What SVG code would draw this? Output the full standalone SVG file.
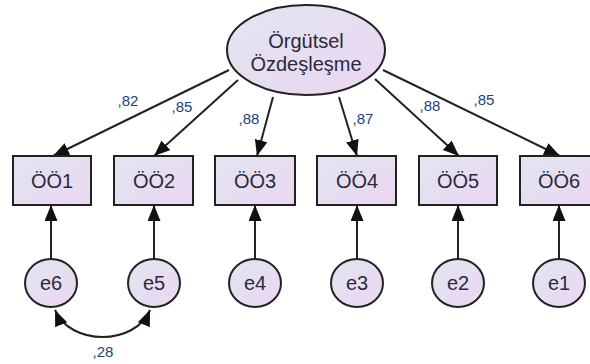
<svg xmlns="http://www.w3.org/2000/svg" width="590" height="364" viewBox="0 0 590 364">
<defs>
<linearGradient id="g" x1="0" y1="0" x2="1" y2="1">
<stop offset="0" stop-color="#e0e6f0"/>
<stop offset="1" stop-color="#ecd6f2"/>
</linearGradient>
<marker id="ah" markerUnits="userSpaceOnUse" markerWidth="17" markerHeight="14" refX="16" refY="6.5" orient="auto-start-reverse">
<path d="M0,0 L16,6.5 L0,13 z" fill="#111"/>
</marker>
<style>
.n{fill:url(#g);stroke:#222;stroke-width:2}
.t{font-family:"Liberation Sans",Arial,sans-serif;font-size:20px;fill:#2a2a3a;text-anchor:middle}
.l{font-family:"Liberation Sans",Arial,sans-serif;font-size:15px;fill:#1f3f7f;text-anchor:middle}
.c{fill:none;stroke:#222;stroke-width:2;marker-end:url(#ah)}
</style>
</defs>
<g id="connectors">
<line class="c" x1="229" y1="70" x2="53" y2="156"/>
<line class="c" x1="238" y1="80" x2="154" y2="156"/>
<line class="c" x1="273" y1="97" x2="257" y2="156"/>
<line class="c" x1="339" y1="97" x2="357" y2="156"/>
<line class="c" x1="375" y1="79" x2="459" y2="156"/>
<line class="c" x1="383" y1="70" x2="560" y2="156"/>
<line class="c" x1="51" y1="259" x2="51" y2="205"/>
<line class="c" x1="154" y1="259" x2="154" y2="205"/>
<line class="c" x1="255" y1="259" x2="255" y2="205"/>
<line class="c" x1="357" y1="259" x2="357" y2="205"/>
<line class="c" x1="458" y1="259" x2="458" y2="205"/>
<line class="c" x1="559" y1="259" x2="559" y2="205"/>
<path class="c" d="M55,310 C70,346 135,346 150,310" marker-start="url(#ah)"/>
<text class="l" x="128" y="106">,82</text>
<text class="l" x="182" y="112">,85</text>
<text class="l" x="249" y="124">,88</text>
<text class="l" x="363" y="124">,87</text>
<text class="l" x="430" y="111">,88</text>
<text class="l" x="484" y="105">,85</text>
<text class="l" x="103" y="357">,28</text>
</g>
<g id="latent"><ellipse class="n" cx="306" cy="50" rx="79" ry="45"/><text class="t" x="306" y="48">Örgütsel</text><text class="t" x="306" y="71">Özdeşleşme</text></g>
<g id="OO1"><rect class="n" x="13" y="156" width="78" height="49"/><text class="t" x="52" y="188">ÖÖ1</text></g>
<g id="OO2"><rect class="n" x="114" y="156" width="79" height="49"/><text class="t" x="154" y="188">ÖÖ2</text></g>
<g id="OO3"><rect class="n" x="215" y="156" width="80" height="49"/><text class="t" x="255" y="188">ÖÖ3</text></g>
<g id="OO4"><rect class="n" x="317" y="156" width="79" height="49"/><text class="t" x="357" y="188">ÖÖ4</text></g>
<g id="OO5"><rect class="n" x="419" y="156" width="78" height="49"/><text class="t" x="458" y="188">ÖÖ5</text></g>
<g id="OO6"><rect class="n" x="520" y="156" width="79" height="49"/><text class="t" x="559" y="188">ÖÖ6</text></g>
<g id="e6"><ellipse class="n" cx="51" cy="283" rx="26" ry="24"/><text class="t" x="51" y="290">e6</text></g>
<g id="e5"><ellipse class="n" cx="154" cy="283" rx="26" ry="24"/><text class="t" x="154" y="290">e5</text></g>
<g id="e4"><ellipse class="n" cx="255" cy="283" rx="26" ry="24"/><text class="t" x="255" y="290">e4</text></g>
<g id="e3"><ellipse class="n" cx="357" cy="283" rx="26" ry="24"/><text class="t" x="357" y="290">e3</text></g>
<g id="e2"><ellipse class="n" cx="458" cy="283" rx="26" ry="24"/><text class="t" x="458" y="290">e2</text></g>
<g id="e1"><ellipse class="n" cx="559" cy="283" rx="26" ry="24"/><text class="t" x="559" y="290">e1</text></g>
</svg>
